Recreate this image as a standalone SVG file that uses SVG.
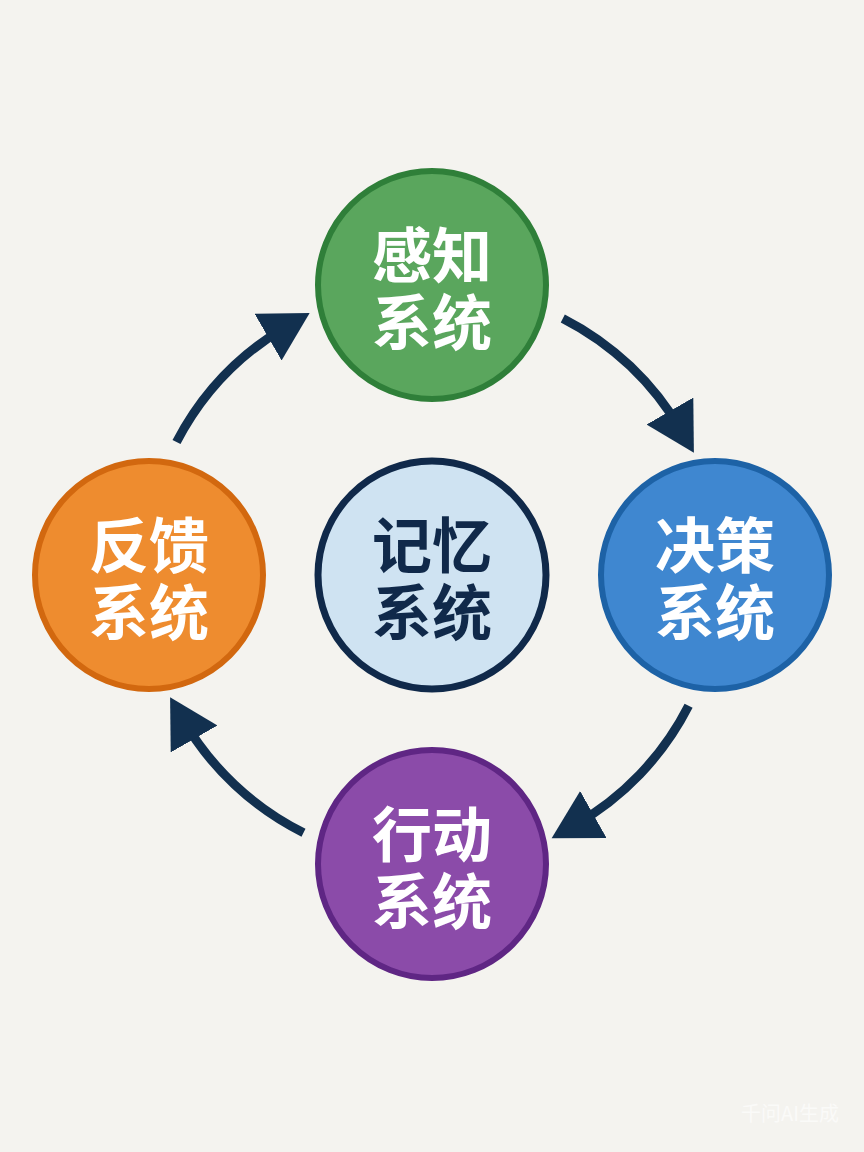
<svg xmlns="http://www.w3.org/2000/svg" width="864" height="1152" viewBox="0 0 864 1152">
  <defs>
    <marker id="ah" markerUnits="userSpaceOnUse" markerWidth="50" markerHeight="56" refX="23" refY="27" orient="auto" viewBox="0 0 50 56">
      <path d="M0,0 L48,27 L0,54 Z" fill="#12304f"/>
    </marker>
    <style>
      .node circle { stroke-width: 6; }
      .lbl { font-family: "Noto Sans CJK SC", "Noto Sans", sans-serif; font-weight: 700; font-size: 60px; text-anchor: middle; dominant-baseline: central; }
      .w { fill: #ffffff; }
      .conn path { fill: none; stroke: #12304f; stroke-width: 9; marker-end: url(#ah); }
    </style>
  </defs>
  <rect width="864" height="1152" fill="#f4f3ef"/>

  <g id="connectors" class="conn">
    <path d="M562.8,318.4 A288,288 0 0 1 681.4,431"/>
    <path d="M688.6,705.7 A288,288 0 0 1 573.4,825.9"/>
    <path d="M303.5,832.7 A288,288 0 0 1 182.6,719"/>
    <path d="M176.5,442 A288,288 0 0 1 288,325.6"/>
  </g>

  <g id="perception" class="node">
    <circle cx="432" cy="285" r="114" fill="#5aa65d" stroke="#2f7f39"/>
    <text class="lbl w"><tspan x="432" y="251">感知</tspan><tspan x="432" y="318">系统</tspan></text>
  </g>
  <g id="memory" class="node">
    <circle cx="432" cy="575" r="114" fill="#cfe3f2" stroke="#10294a" style="stroke-width:7"/>
    <text class="lbl" fill="#10294a"><tspan x="432" y="541">记忆</tspan><tspan x="432" y="608">系统</tspan></text>
  </g>
  <g id="decision" class="node">
    <circle cx="715" cy="575" r="114" fill="#3f87d0" stroke="#1d62a6"/>
    <text class="lbl w"><tspan x="715" y="541">决策</tspan><tspan x="715" y="608">系统</tspan></text>
  </g>
  <g id="feedback" class="node">
    <circle cx="149" cy="575" r="114" fill="#ee8c2f" stroke="#d2680f"/>
    <text class="lbl w"><tspan x="149" y="541">反馈</tspan><tspan x="149" y="608">系统</tspan></text>
  </g>
  <g id="action" class="node">
    <circle cx="432" cy="864" r="114" fill="#8b4ba9" stroke="#5f2684"/>
    <text class="lbl w"><tspan x="432" y="830">行动</tspan><tspan x="432" y="897">系统</tspan></text>
  </g>

  <text x="790" y="1112" font-family="Noto Sans CJK SC, sans-serif" font-size="20" fill="#ffffff" fill-opacity="0.6" text-anchor="middle" dominant-baseline="central">千问AI生成</text>
</svg>
